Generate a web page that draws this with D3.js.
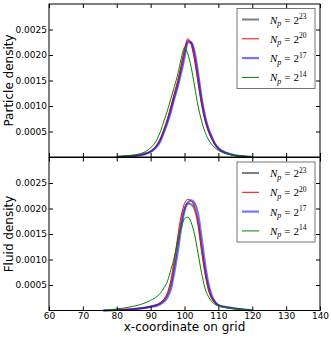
<!DOCTYPE html>
<html lang="en">
<head>
<meta charset="UTF-8">
<title>Particle and fluid density</title>
<style>
  body { margin: 0; background: #fff; }
  svg { display: block; }
  .tick text { font-family: "DejaVu Sans", sans-serif; font-size: 9px; fill: #000; }
  .tick line { stroke: #000; }
  .lab { font-family: "DejaVu Sans", sans-serif; font-size: 12px; fill: #000; }
  .leg text { font-family: "Liberation Serif", "DejaVu Serif", serif; font-size: 11px; }
</style>
</head>
<body>
<div id="chart"></div>
<script src="https://cdn.jsdelivr.net/npm/d3@7"></script>
<script>
// data (densities in units of 1e-3)
var topX = [80,82,84,86,88,90,91,92,93,94,95,96,97,98,99,100,101,102,103,104,105,106,107,108,109,110,112,114,116,118,120];
var topP23 = [0,0.01,0.02,0.03,0.06,0.11,0.16,0.24,0.36,0.53,0.72,0.95,1.20,1.44,1.73,2.05,2.28,2.24,1.96,1.55,1.11,0.77,0.54,0.38,0.25,0.17,0.085,0.045,0.02,0.01,0];
var topP20 = [0,0.01,0.02,0.03,0.06,0.11,0.17,0.25,0.38,0.56,0.76,1.00,1.25,1.50,1.80,2.12,2.32,2.20,1.88,1.45,1.04,0.73,0.51,0.36,0.24,0.16,0.08,0.04,0.02,0.01,0];
var topP17 = [0,0.01,0.02,0.03,0.05,0.10,0.15,0.22,0.33,0.50,0.68,0.90,1.15,1.38,1.65,1.95,2.25,2.24,2.05,1.65,1.18,0.82,0.57,0.40,0.26,0.17,0.09,0.05,0.025,0.01,0];
var topP14 = [0.01,0.02,0.03,0.05,0.09,0.18,0.25,0.36,0.52,0.72,0.92,1.15,1.38,1.62,1.92,2.15,2.02,1.75,1.38,1.00,0.72,0.50,0.35,0.25,0.18,0.13,0.07,0.04,0.02,0.01,0];

var botX = [76,80,84,88,90,92,93,94,95,96,97,98,99,100,101,102,103,104,105,106,107,108,109,110,112,114,116,118,120];
var botF23 = [0,0.01,0.025,0.05,0.08,0.11,0.15,0.21,0.32,0.52,0.88,1.30,1.72,2.00,2.10,2.08,1.98,1.72,1.25,0.80,0.46,0.26,0.16,0.10,0.065,0.045,0.03,0.015,0];
var botF20 = [0,0.01,0.025,0.05,0.08,0.12,0.16,0.23,0.35,0.60,1.00,1.45,1.85,2.10,2.18,2.15,2.02,1.70,1.20,0.75,0.42,0.24,0.15,0.10,0.065,0.045,0.03,0.015,0];
var botF17 = [0,0.01,0.02,0.05,0.07,0.10,0.13,0.18,0.26,0.42,0.75,1.15,1.60,1.95,2.12,2.16,2.10,1.90,1.45,0.95,0.55,0.30,0.17,0.11,0.07,0.05,0.03,0.015,0];
var botF14 = [0,0.03,0.07,0.14,0.20,0.28,0.35,0.45,0.58,0.80,1.05,1.35,1.62,1.80,1.83,1.72,1.48,1.12,0.75,0.45,0.28,0.18,0.12,0.09,0.06,0.04,0.03,0.015,0];

var xTicks = [60,70,80,90,100,110,120,130,140];
var yTicks = [0.0005,0.0010,0.0015,0.0020,0.0025];
var exps = ["23","20","17","14"];

var W = 331, H = 338;
var left = 49, right = 320;

var svg = d3.select("#chart").append("svg")
  .attr("width", W).attr("height", H);

var x = d3.scaleLinear().domain([60,140]).range([left,right]);

var styles = [
  {color:"#000", width:2, op:0.5},
  {color:"#ff0000", width:1, op:1},
  {color:"#0000ff", width:2.2, op:0.55},
  {color:"#008000", width:1, op:1}
];

function panel(y0, y1, xs, series, label, showX) {
  var y = d3.scaleLinear().domain([0,0.003]).range([y1,y0]);
  var g = svg.append("g");

  var line = d3.line()
    .x(function(d){ return x(d[0]); })
    .y(function(d){ return y(d[1]/1000); })
    .curve(d3.curveMonotoneX);

  series.forEach(function(s, i) {
    var pts = xs.map(function(v, j){ return [v, s[j]]; });
    g.append("path")
      .attr("d", line(pts))
      .attr("fill", "none")
      .attr("stroke", styles[i].color)
      .attr("stroke-width", styles[i].width)
      .attr("stroke-opacity", styles[i].op);
  });

  // axes, inward ticks
  g.append("g").attr("transform", "translate(0," + y1 + ")")
    .call(d3.axisBottom(x).tickValues(xTicks).tickSize(-4).tickSizeOuter(0).tickPadding(2)
      .tickFormat(showX ? d3.format("d") : ""))
    .call(function(a){ a.select(".domain").remove(); });
  g.append("g").attr("transform", "translate(0," + y0 + ")")
    .call(d3.axisTop(x).tickValues(xTicks).tickSize(-4).tickSizeOuter(0).tickFormat(""))
    .call(function(a){ a.select(".domain").remove(); });
  g.append("g").attr("transform", "translate(" + left + ",0)")
    .call(d3.axisLeft(y).tickValues(yTicks).tickSize(-4).tickSizeOuter(0).tickPadding(2)
      .tickFormat(d3.format(".4f")))
    .call(function(a){ a.select(".domain").remove(); });
  g.append("g").attr("transform", "translate(" + right + ",0)")
    .call(d3.axisRight(y).tickValues(yTicks).tickSize(-4).tickSizeOuter(0).tickFormat(""))
    .call(function(a){ a.select(".domain").remove(); });

  g.append("rect")
    .attr("x", left).attr("y", y0)
    .attr("width", right-left).attr("height", y1-y0)
    .attr("fill", "none").attr("stroke", "#000").attr("stroke-width", 1);

  g.append("text").attr("class", "lab")
    .attr("transform", "translate(12.5," + ((y0+y1)/2) + ") rotate(-90)")
    .attr("text-anchor", "middle")
    .text(label);

  // legend
  var lg = g.append("g").attr("class", "leg");
  var lx = 237, ly = y0 + 4.5;
  lg.append("rect")
    .attr("x", lx).attr("y", ly).attr("width", 78).attr("height", 80)
    .attr("fill", "#fff").attr("stroke", "#777").attr("stroke-width", 1);
  exps.forEach(function(e, i) {
    var ry = ly + 11 + i*19.3;
    lg.append("line")
      .attr("x1", lx+5).attr("x2", lx+22).attr("y1", ry).attr("y2", ry)
      .attr("stroke", styles[i].color)
      .attr("stroke-width", styles[i].width)
      .attr("stroke-opacity", styles[i].op);
    var t = lg.append("text").attr("x", lx+33).attr("y", ry+4);
    t.append("tspan").attr("font-style", "italic").text("N");
    t.append("tspan").attr("font-style", "italic").attr("font-size", "8px").attr("dy", 2.5).text("p");
    t.append("tspan").attr("dy", -2.5).attr("dx", 3).text("=");
    t.append("tspan").attr("dx", 3).text("2");
    t.append("tspan").attr("font-size", "7.5px").attr("dy", -4.5).text(e);
  });
}

panel(4, 157, topX, [topP23, topP20, topP17, topP14], "Particle density", false);
panel(157.5, 310.5, botX, [botF23, botF20, botF17, botF14], "Fluid density", true);

svg.append("text").attr("class", "lab")
  .attr("x", (left+right)/2).attr("y", 331)
  .attr("text-anchor", "middle")
  .text("x-coordinate on grid");
</script>
</body>
</html>
